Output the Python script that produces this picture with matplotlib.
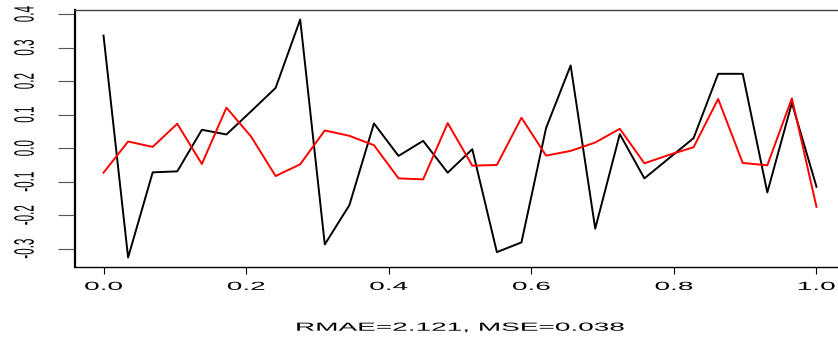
import numpy as np
import matplotlib
matplotlib.use("Agg")
import matplotlib.pyplot as plt
from matplotlib.patheffects import AbstractPathEffect
from matplotlib.transforms import Affine2D

# valeurs (30 points entre 0 et 1)
observed = [0.336, -0.326, -0.072, -0.069, 0.055, 0.041, 0.110, 0.180, 0.384, -0.287,
            -0.170, 0.074, -0.023, 0.022, -0.073, -0.003, -0.310, -0.281, 0.060, 0.247,
            -0.240, 0.042, -0.090, -0.030, 0.030, 0.222, 0.222, -0.132, 0.135, -0.115]
fitted = [-0.073, 0.020, 0.004, 0.073, -0.047, 0.121, 0.035, -0.083, -0.048, 0.053,
          0.037, 0.009, -0.090, -0.093, 0.075, -0.052, -0.050, 0.091, -0.022, -0.008,
          0.017, 0.058, -0.045, -0.020, 0.003, 0.147, -0.044, -0.051, 0.149, -0.175]
x_ticks = [0.0, 0.2, 0.4, 0.6, 0.8, 1.0]
y_ticks = [-0.3, -0.2, -0.1, 0.0, 0.1, 0.2, 0.3, 0.4]
caption = "RMAE=2.121, MSE=0.038"

SX = 2.4  # l'image d'origine est etiree horizontalement


# etire le texte horizontalement autour de son centre
class Stretch(AbstractPathEffect):
    def __init__(self, sx):
        super().__init__()
        self.sx = sx

    def draw_path(self, renderer, gc, tpath, affine, rgbFace=None):
        bb = tpath.get_extents(affine)
        cx = (bb.x0 + bb.x1) / 2
        t = affine + Affine2D().translate(-cx, 0).scale(self.sx, 1).translate(cx, 0)
        renderer.draw_path(gc, tpath, t, rgbFace)


plt.rcParams['font.family'] = ['Liberation Sans', 'DejaVu Sans']

W, H = 838, 338
fig = plt.figure(figsize=(W / 100, H / 100), dpi=100)
ax = fig.add_axes([75 / W, 71 / H, 770 / W, 257 / H])

x = np.linspace(0, 1, len(observed))
ax.plot(x, observed, color="black", lw=1.4)
ax.plot(x, fitted, color="red", lw=1.4)

# marges a la R (4 %)
lo = min(min(observed), min(fitted))
hi = max(max(observed), max(fitted))
pad = 0.04 * (hi - lo)
ax.set_xlim(-0.04, 1.04)
ax.set_ylim(lo - pad, hi + pad)

ax.set_xticks(x_ticks, ["%.1f" % v for v in x_ticks])
ax.set_yticks(y_ticks, ["%.1f" % v for v in y_ticks])
ax.tick_params(axis='x', length=5, width=0.8, pad=5, labelsize=8.4)
ax.tick_params(axis='y', length=12.2, width=0.8, pad=23.8, labelsize=8.4, color="#555555")
for lbl in ax.get_yticklabels():
    lbl.set_rotation(90)
    lbl.set_ha('center')
    lbl.set_va('center')
    lbl.set_path_effects([Stretch(SX)])
for lbl in ax.get_xticklabels():
    lbl.set_path_effects([Stretch(SX)])

for s in ax.spines.values():
    s.set_linewidth(1.0)
ax.spines['top'].set_color("#444444")
ax.spines['left'].set_linewidth(1.6)

fig.text(460 / W, 7.3 / H, caption, ha='center', va='baseline', fontsize=8.4,
         path_effects=[Stretch(SX)])

fig.savefig("out.png", dpi=100)
